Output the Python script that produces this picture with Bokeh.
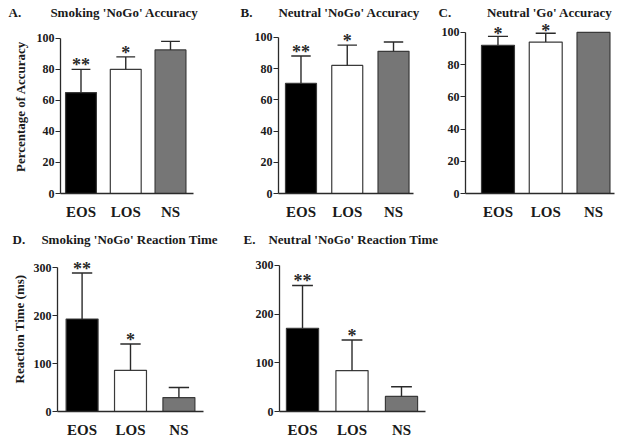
from bokeh.plotting import figure
from bokeh.models import Range1d, FixedTicker, Label, ColumnDataSource
from bokeh.layouts import column, row
from bokeh.embed import file_html
from bokeh.resources import INLINE

# ---------------- data ----------------
categories = ["EOS", "LOS", "NS"]

acc_ticks = [0, 20, 40, 60, 80, 100]
rt_ticks = [0, 100, 200, 300]

smoking_nogo_acc_mean = [65, 80, 92.5]
smoking_nogo_acc_err = [15, 8, 5.5]
smoking_nogo_acc_sig = ["**", "*", ""]

neutral_nogo_acc_mean = [70.5, 82, 91]
neutral_nogo_acc_err = [17.5, 13, 6]
neutral_nogo_acc_sig = ["**", "*", ""]

neutral_go_acc_mean = [92, 94, 100]
neutral_go_acc_err = [5.5, 5.5, 0]
neutral_go_acc_sig = ["*", "*", ""]

smoking_nogo_rt_mean = [193, 86, 29]
smoking_nogo_rt_err = [96, 55, 21]
smoking_nogo_rt_sig = ["**", "*", ""]

neutral_nogo_rt_mean = [171, 84, 31]
neutral_nogo_rt_err = [88, 63, 20]
neutral_nogo_rt_sig = ["**", "*", ""]

# ---------------- style ----------------
FONT = "Liberation Serif"
TXT = "#1a1a1a"
BAR_COLORS = ["#000000", "#ffffff", "#767676"]
NB = "\u00a0"


def panel(width, height, borders, xr, ymax, ticks, means, errs, sig, bar_w,
          title, title_dx, star_dy, ylabel=None, ylabel_standoff=5):
    bl, br, bt, bb = borders
    p = figure(width=width, height=height, output_backend="svg", toolbar_location=None,
               x_range=Range1d(*xr), y_range=Range1d(0, ymax),
               min_border_left=bl, min_border_right=br, min_border_top=bt, min_border_bottom=bb)
    p.outline_line_color = None
    p.grid.visible = False
    p.background_fill_color = "white"
    p.border_fill_color = "white"

    xs = list(range(len(categories)))
    src = ColumnDataSource(dict(x=xs, top=means, color=BAR_COLORS))
    p.vbar(x="x", top="top", width=bar_w, fill_color="color", line_color="#3a3a3a",
           line_width=1.2, source=src)

    # error bars (upper only)
    ex = [x for x, e in zip(xs, errs) if e > 0]
    elo = [m for m, e in zip(means, errs) if e > 0]
    ehi = [m + e for m, e in zip(means, errs) if e > 0]
    cap = 0.21
    p.segment(x0=ex, y0=elo, x1=ex, y1=ehi, line_color="#2a2a2a", line_width=1.4)
    p.segment(x0=[x - cap for x in ex], y0=ehi, x1=[x + cap for x in ex], y1=ehi,
              line_color="#2a2a2a", line_width=1.4)

    # significance stars
    for x, m, e, s in zip(xs, means, errs, sig):
        if s:
            p.add_layout(Label(x=x, y=m + e, text=s, text_align="center",
                               text_baseline="alphabetic", y_offset=star_dy,
                               text_font=FONT, text_font_style="bold",
                               text_font_size="18px", text_color="#2a2a2a"))

    # axes
    p.xaxis.ticker = FixedTicker(ticks=xs)
    p.xaxis.major_label_overrides = {i: c for i, c in enumerate(categories)}
    p.xaxis.major_tick_line_color = None
    p.xaxis.minor_tick_line_color = None
    p.xaxis.major_label_standoff = 4
    p.xaxis.major_label_text_font = FONT
    p.xaxis.major_label_text_font_style = "bold"
    p.xaxis.major_label_text_font_size = "15px"
    p.xaxis.major_label_text_color = TXT
    p.xaxis.axis_line_color = "#2a2a2a"
    p.xaxis.axis_line_width = 1.3

    p.yaxis.ticker = FixedTicker(ticks=ticks)
    p.yaxis.bounds = (ticks[0], ticks[-1])
    p.yaxis.minor_tick_line_color = None
    p.yaxis.major_tick_out = 5
    p.yaxis.major_tick_in = 0
    p.yaxis.major_tick_line_color = "#2a2a2a"
    p.yaxis.major_tick_line_width = 1.2
    p.yaxis.major_label_standoff = 1
    p.yaxis.major_label_text_font = FONT
    p.yaxis.major_label_text_font_style = "bold"
    p.yaxis.major_label_text_font_size = "12px"
    p.yaxis.major_label_text_color = TXT
    p.yaxis.axis_line_color = "#2a2a2a"
    p.yaxis.axis_line_width = 1.3
    if ylabel:
        p.yaxis.axis_label = ylabel
        p.yaxis.axis_label_text_font = FONT
        p.yaxis.axis_label_text_font_style = "bold"
        p.yaxis.axis_label_text_font_size = "13px"
        p.yaxis.axis_label_text_color = TXT
        p.yaxis.axis_label_standoff = ylabel_standoff

    # panel title
    p.title.text = title
    p.title.align = "left"
    p.title.offset = title_dx
    p.title.standoff = 0
    p.title.text_font = FONT
    p.title.text_font_style = "bold"
    p.title.text_font_size = "13px"
    p.title.text_color = TXT
    return p


pA = panel(210, 222, (60, 17, 19, 27), (-0.458, 2.514), 112.1, acc_ticks,
           smoking_nogo_acc_mean, smoking_nogo_acc_err, smoking_nogo_acc_sig, 0.69,
           "A." + NB * 9 + "Smoking 'NoGo' Accuracy", 8 - 60, 4,
           ylabel="Percentage of Accuracy", ylabel_standoff=6)
pB = panel(212, 222, (68, 9, 19, 27), (-0.486, 2.432), 111.4, acc_ticks,
           neutral_nogo_acc_mean, neutral_nogo_acc_err, neutral_nogo_acc_sig, 0.67,
           "B." + NB * 8 + "Neutral 'NoGo' Accuracy", 240 - 278, 4)
pC = panel(202, 222, (43, 10, 19, 27), (-0.68, 2.44), 108.0, acc_ticks,
           neutral_go_acc_mean, neutral_go_acc_err, neutral_go_acc_sig, 0.69,
           "C." + NB * 11 + "Neutral 'Go' Accuracy", 438 - 465, 2)
pD = panel(222, 218, (57, 19, 24, 23), (-0.508, 2.508), 344.3, rt_ticks,
           smoking_nogo_rt_mean, smoking_nogo_rt_err, smoking_nogo_rt_sig, 0.66,
           "D." + NB * 5 + "Smoking 'NoGo' Reaction Time", 12 - 57, 4,
           ylabel="Reaction Time (ms)", ylabel_standoff=4)
pE = panel(226, 218, (57, 23, 21, 23), (-0.465, 2.485), 339.0, rt_ticks,
           neutral_nogo_rt_mean, neutral_nogo_rt_err, neutral_nogo_rt_sig, 0.65,
           "E." + NB * 4 + "Neutral 'NoGo' Reaction Time", 243 - 279, 4)

layout = column(row(pA, pB, pC), row(pD, pE))
open("out.html", "w").write(file_html(layout, INLINE))
